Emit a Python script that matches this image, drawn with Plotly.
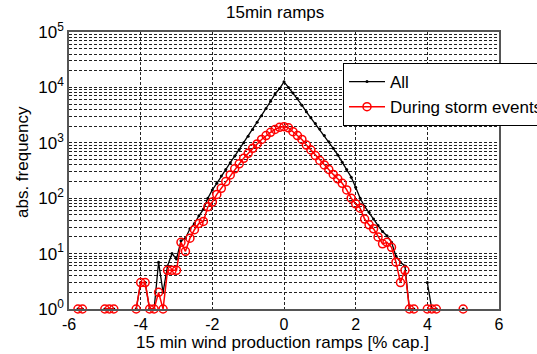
import numpy as np
import plotly.graph_objects as go

# bin centres of the ramp histogram [% cap.] (step 0.125 from -6 to 6)
ramp_bins = [round(-6 + 0.125 * i, 3) for i in range(97)]

# counts per bin, all 15-min ramps (0 = empty bin, not drawn on log axis)
count_all = [
    0, 0, 1, 1, 0, 0, 0, 0,
    1, 1, 1, 0, 0, 0, 0, 1,
    3, 3, 1, 1, 7, 2, 6, 10,
    8, 17, 19, 28, 35, 48, 63, 100,
    141, 186, 251, 331, 437, 575, 759, 1000,
    1318, 1738, 2344, 3090, 4169, 5623, 7586, 9550,
    12590, 10000, 7943, 6310, 4786, 3631, 2818, 2239,
    1778, 1349, 1047, 794, 603, 447, 331, 240,
    158, 100, 71, 56, 42, 32, 25, 21,
    16, 9, 7, 6, 1, 1, 0, 0,
    3, 1, 1, 0, 0, 0, 0, 0,
    1, 0, 0, 0, 0, 0, 0, 0,
    0,
]

# counts per bin, ramps during storm events
count_storm = [
    0, 0, 1, 1, 0, 0, 0, 0,
    1, 1, 1, 0, 0, 0, 0, 1,
    3, 3, 1, 1, 2, 1, 5, 5,
    5, 16, 11, 19, 27, 35, 38, 70,
    85, 117, 151, 200, 263, 339, 417, 525,
    646, 794, 955, 1148, 1349, 1549, 1738, 1905,
    1950, 1862, 1585, 1349, 1148, 912, 741, 589,
    479, 398, 331, 269, 224, 186, 141, 100,
    79, 66, 42, 33, 28, 20, 15, 16,
    13, 7, 3, 5, 1, 1, 0, 0,
    1, 1, 1, 0, 0, 0, 0, 0,
    1, 0, 0, 0, 0, 0, 0, 0,
    0,
]

x_ticks = [-6, -4, -2, 0, 2, 4, 6]
x_ticktext = ["-6", "-4", "-2", "0", "2", "4", "6"]
y_ticks = [1, 10, 100, 1000, 10000, 100000]
y_ticktext = ["10<sup>%d</sup>" % k for k in range(6)]

def nz(v):
    return [c if c > 0 else None for c in v]

FONT = "Arial, 'Liberation Sans', sans-serif"
GRID = "#222222"
FS = 17
TFS = 16

fig = go.Figure()
fig.add_trace(go.Scatter(
    x=ramp_bins, y=nz(count_all), name="All", mode="lines+markers",
    line=dict(color="black", width=1.3),
    marker=dict(symbol="circle", size=3, color="black"),
    connectgaps=False, cliponaxis=False,
))
fig.add_trace(go.Scatter(
    x=ramp_bins, y=nz(count_storm), name="During storm events", mode="lines+markers",
    line=dict(color="#ff0000", width=1.5),
    marker=dict(symbol="circle-open", size=8, color="#ff0000", line=dict(width=1.5)),
    connectgaps=False, cliponaxis=False,
))

fig.update_layout(
    width=537, height=354,
    margin=dict(l=69, r=38, t=32, b=45, autoexpand=False),
    paper_bgcolor="white", plot_bgcolor="white",
    font=dict(family=FONT, size=FS, color="black"),
    showlegend=True,
    legend=dict(
        x=(343 - 69) / 430, y=(309 - 63) / 277, xanchor="left", yanchor="top",
        bgcolor="white", bordercolor="black", borderwidth=1,
        font=dict(family=FONT, size=FS, color="black"),
        tracegroupgap=0, itemwidth=36,
    ),
    annotations=[
        dict(text="15min ramps", xref="paper", yref="paper",
             x=(275 - 69) / 430, y=(309 - 13) / 277, xanchor="center", yanchor="middle",
             showarrow=False, font=dict(family=FONT, size=FS)),
        dict(text="15 min wind production ramps [% cap.]", xref="paper", yref="paper",
             x=(282 - 69) / 430, y=(309 - 342) / 277, xanchor="center", yanchor="middle",
             showarrow=False, font=dict(family=FONT, size=FS)),
        dict(text="abs. frequency", xref="paper", yref="paper", textangle=-90,
             x=(22 - 69) / 430, y=(309 - 162) / 277, xanchor="center", yanchor="middle",
             showarrow=False, font=dict(family=FONT, size=FS)),
    ],
)

fig.update_xaxes(
    range=[-6, 6], tickvals=x_ticks, ticktext=x_ticktext,
    showgrid=True, gridcolor=GRID, griddash="3px,2px", gridwidth=1,
    zeroline=False, showline=True, linecolor="#555555", linewidth=1.5, mirror=True,
    ticks="", tickfont=dict(family=FONT, size=TFS),
)
fig.update_yaxes(
    type="log", range=[0, 5], tickvals=y_ticks, ticktext=y_ticktext,
    showgrid=True, gridcolor=GRID, griddash="3px,2px", gridwidth=1,
    minor=dict(showgrid=True, gridcolor=GRID, griddash="3px,2px", gridwidth=1, dtick="D1", ticks=""),
    zeroline=False, showline=True, linecolor="#555555", linewidth=1.5, mirror=True,
    ticks="", tickfont=dict(family=FONT, size=FS),
)

fig.write_html("out.html")
